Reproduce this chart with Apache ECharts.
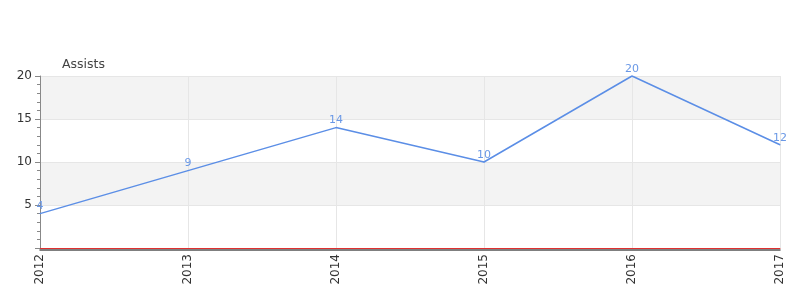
<!DOCTYPE html>
<html><head><meta charset="utf-8">
<script src="https://cdn.jsdelivr.net/npm/echarts@6/dist/echarts.min.js"></script>
<style>html,body{margin:0;padding:0;background:#fff}#c{width:800px;height:300px}</style>
</head><body><div id="c"></div>
<script>
const years = ['2012','2013','2014','2015','2016','2017'];
const assists = [4, 9, 14, 10, 20, 12];
const seriesName = 'Assists';
const chart = echarts.init(document.getElementById('c'), null, {renderer:'canvas'});
chart.setOption({
  animation: false,
  grid: {left: 40, right: 20, top: 76, bottom: 52, containLabel: false},
  xAxis: [{
    type: 'category', data: years, boundaryGap: false,
    axisLine: {lineStyle: {color: '#e03030', width: 1}},
    axisTick: {show: false},
    axisLabel: {rotate: 90, color: '#333', fontSize: 12, fontFamily: 'DejaVu Sans', margin: 6},
    splitLine: {show: true, lineStyle: {color: '#e6e6e6'}}
  }, {
    type: 'category', data: years, boundaryGap: false, position: 'bottom', offset: 1.5,
    axisLine: {onZero: false, lineStyle: {color: '#555', width: 1.5}},
    axisTick: {show: false}, axisLabel: {show: false}, splitLine: {show: false}
  }],
  yAxis: {
    type: 'value', min: 0, max: 20, interval: 5,
    name: seriesName, nameLocation: 'end', nameGap: 5,
    nameTextStyle: {color: '#444', fontSize: 12.5, fontFamily: 'DejaVu Sans', align: 'left', padding: [0,0,0,22]},
    axisLine: {show: true, lineStyle: {color: '#888'}},
    axisTick: {show: true, length: 5, lineStyle: {color: '#888'}},
    minorTick: {show: true, splitNumber: 5, length: 3, lineStyle: {color: '#888'}},
    axisLabel: {color: '#333', fontSize: 12, fontFamily: 'DejaVu Sans', margin: 8,
      formatter: v => v === 0 ? '' : v},
    splitLine: {show: true, lineStyle: {color: '#e6e6e6'}},
    splitArea: {show: true, areaStyle: {color: ['#ffffff', '#f3f3f3']}}
  },
  series: [{
    type: 'line', name: seriesName, data: assists, xAxisIndex: 0,
    symbol: 'circle', symbolSize: 1, showSymbol: true,
    lineStyle: {color: '#5b8ee6', width: 1.5},
    itemStyle: {color: '#5b8ee6'},
    label: {show: true, position: 'top', color: '#6a98e6', fontSize: 11, fontFamily: 'DejaVu Sans', distance: 1}
  }]
});
</script></body></html>
